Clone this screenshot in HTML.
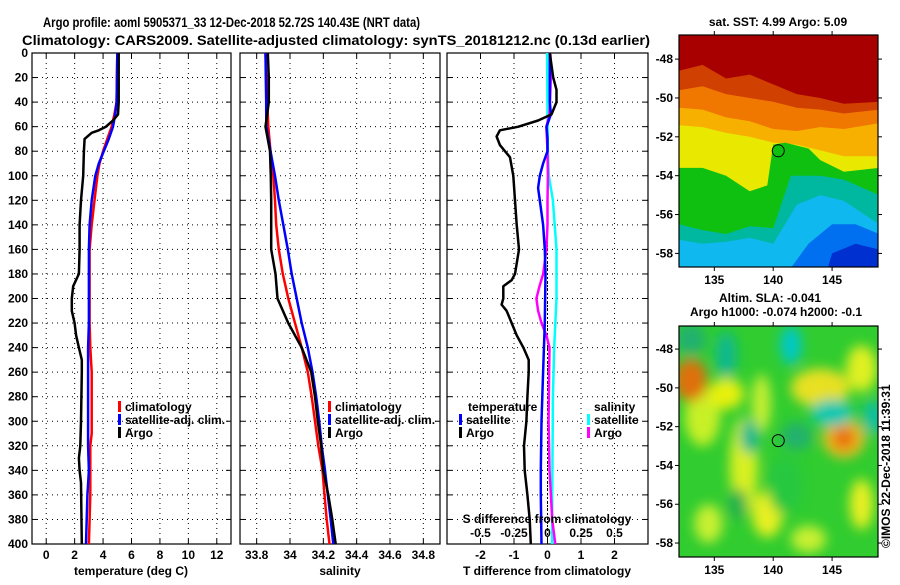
<!DOCTYPE html>
<html><head><meta charset="utf-8"><style>
body{margin:0;background:#fff;}
svg text{font-family:"Liberation Sans",sans-serif;font-weight:bold;fill:#000;}
</style></head><body>
<svg id="c" width="900" height="580" xmlns="http://www.w3.org/2000/svg">
<defs>
<filter id="bl" x="-50%" y="-50%" width="200%" height="200%"><feGaussianBlur stdDeviation="6"/></filter>
<clipPath id="cm1"><rect x="679" y="35" width="199" height="232"/></clipPath>
<clipPath id="cm2"><rect x="679" y="326" width="199" height="231"/></clipPath>
</defs>
<text x="43" y="27" font-size="14" textLength="377" lengthAdjust="spacingAndGlyphs">Argo profile: aoml 5905371_33 12-Dec-2018 52.72S 140.43E (NRT data)</text>
<text x="22" y="45" font-size="14" textLength="628" lengthAdjust="spacingAndGlyphs">Climatology: CARS2009. Satellite-adjusted climatology: synTS_20181212.nc (0.13d earlier)</text>
<g id="g"></g>
</svg>
<script>
// ---- data ----
const depthsArgoT=[0,20,40,50,55,60,63,65,70,80,100,120,140,160,180,190,200,210,220,230,240,250,260,300,320,330,340,350,400];
const argoT=[5.1,5.1,5.1,5.05,4.7,4.2,3.7,3.2,2.7,2.65,2.6,2.45,2.35,2.35,2.3,1.9,1.8,1.8,2.0,2.1,2.3,2.5,2.5,2.45,2.4,2.3,2.35,2.45,2.5];
const depthsStd=[0,40,50,60,70,80,90,100,120,140,160,200,220,240,260,310,320,340,360,400];
const climT=[5.0,4.95,4.8,4.6,4.3,4.0,3.75,3.6,3.4,3.2,3.05,3.05,3.05,3.1,3.2,3.2,3.1,3.1,3.1,3.0];
const satT=[5.0,4.95,4.85,4.7,4.4,4.05,3.7,3.45,3.2,3.05,3.0,3.0,3.0,2.95,2.95,2.95,2.95,3.0,2.9,2.8];
const depthsS=[0,20,40,60,80,100,120,140,160,180,200,220,240,260,280,300,320,340,360,380,400];
const argoS=[33.867,33.873,33.873,33.853,33.88,33.885,33.887,33.887,33.887,33.913,33.925,33.99,34.07,34.127,34.15,34.167,34.187,34.2,34.23,34.254,34.274];
const climS=[33.853,33.858,33.863,33.87,33.883,33.9,33.91,33.917,33.933,33.957,33.99,34.03,34.07,34.107,34.13,34.15,34.17,34.195,34.207,34.22,34.237];
const satS=[33.853,33.855,33.857,33.858,33.883,33.91,33.933,33.96,33.987,34.01,34.04,34.07,34.107,34.135,34.157,34.175,34.19,34.21,34.227,34.244,34.26];
const depthsD=[0,20,30,40,50,55,60,63,68,75,85,100,120,140,160,180,185,190,200,205,210,220,230,240,250,260,280,300,320,340,360,380,400];
const argoTdiff=[0.07,0.17,0.27,0.27,0.12,-0.28,-0.87,-1.42,-1.52,-1.42,-1.12,-1.02,-0.97,-0.92,-0.85,-0.97,-1.07,-1.32,-1.32,-1.37,-1.22,-1.07,-0.92,-0.72,-0.56,-0.56,-0.6,-0.63,-0.7,-0.68,-0.6,-0.53,-0.5];
const depthsD2=[0,40,50,60,70,80,90,100,110,120,140,160,180,220,260,300,340,360,400];
const satTdiff=[0.07,0.07,0.1,-0.03,0.0,0.0,-0.13,-0.23,-0.28,-0.23,-0.13,-0.08,-0.06,-0.08,-0.13,-0.18,-0.2,-0.2,-0.18];
const depthsSD=[0,50,80,100,120,160,200,240,280,320,360,400];
const satSdiff=[-0.003,0.0,0.003,0.01,0.04,0.067,0.067,0.05,0.04,0.038,0.035,0.035];
const depthsSD2=[0,20,50,60,80,100,120,140,160,180,190,200,210,220,230,240,260,300,340,360,380,400];
const argoSdiff=[0.022,0.025,0.015,-0.008,0.0,0.003,0.0,0.0,-0.008,-0.032,-0.06,-0.083,-0.07,-0.045,-0.008,0.015,0.012,0.008,0.015,0.025,0.035,0.058];
const depthTicks=[0,20,40,60,80,100,120,140,160,180,200,220,240,260,280,300,320,340,360,380,400];
const tTicks=[0,2,4,6,8,10,12];
const sTicks=[33.8,34,34.2,34.4,34.6,34.8];
const dTicks=[-2,-1,0,1,2];
const sdTicks=[-0.5,-0.25,0,0.25,0.5];
const sdTickLabels=['-0.5','-0.25','0','0.25','0.5'];

const NS='http://www.w3.org/2000/svg';
const G=document.getElementById('g');
function mk(t,a,p){const e=document.createElementNS(NS,t);for(const k in a)e.setAttribute(k,a[k]);(p||G).appendChild(e);return e;}
const Y0=53,Y1=544;
const yD=d=>Y0+d*(Y1-Y0)/400;
function lin(d0,d1,r0,r1){return v=>r0+(v-d0)*(r1-r0)/(d1-d0);}
const P=[
 {x0:32,x1:231,sx:lin(-1,13,32,231)},
 {x0:240,x1:440,sx:lin(33.7,34.9,240,440)},
 {x0:447,x1:648,sx:lin(-3,3,447,648)}];
const sdx=v=>P[2].sx(v*4);
const TICKY=559, TITLEY=575;

function frame(p,ticks,name){
  const gg=mk('g',{});
  
  
  ticks.forEach(t=>{const x=p.sx(t);
    const l=mk('line',{x1:x,x2:x,y1:Y0,y2:Y1,stroke:'#000','stroke-width':1,'stroke-dasharray':'1,4'},gg);
    
    mk('line',{x1:x,x2:x,y1:Y0,y2:Y0+5,stroke:'#000'},gg);mk('line',{x1:x,x2:x,y1:Y1,y2:Y1-5,stroke:'#000'},gg);});
  depthTicks.forEach(d=>{const y=yD(d);
    const l=mk('line',{x1:p.x0,x2:p.x1,y1:y,y2:y,stroke:'#000','stroke-width':1,'stroke-dasharray':'1,4'},gg);
    
    mk('line',{x1:p.x0,x2:p.x0+5,y1:y,y2:y,stroke:'#000'},gg);mk('line',{x1:p.x1,x2:p.x1-5,y1:y,y2:y,stroke:'#000'},gg);});
  mk('rect',{x:p.x0,y:Y0,width:p.x1-p.x0,height:Y1-Y0,fill:'none',stroke:'#000','stroke-width':1.2},gg);
}
function line(xs,ds,sx,col,name,w){
  const pts=xs.map((v,i)=>sx(v).toFixed(1)+','+yD(ds[i]).toFixed(1)).join(' ');
  const e=mk('polyline',{points:pts,fill:'none',stroke:col,'stroke-width':w||2.5,'stroke-linejoin':'round'});
  
  
}
function txt(x,y,s,o){const e=mk('text',Object.assign({x:x,y:y,'font-size':12},o||{}));e.textContent=s;return e;}
function leg(x,y,col,s,name){
  mk('rect',{x:x,y:y-10,width:3,height:11,fill:col});
  const t=txt(x+7,y,s);
  
  
}

// panel 1
frame(P[0],tTicks,'temperature-panel');
depthTicks.forEach(d=>{const t=txt(28,yD(d)+4,String(d),{'text-anchor':'end'});
  });
tTicks.forEach(t=>{const e=txt(P[0].sx(t),TICKY,String(t),{'text-anchor':'middle'});
  });
let e=txt(131,TITLEY,'temperature (deg C)',{'text-anchor':'middle'});

line(climT,depthsStd,P[0].sx,'#ff0000','climatology-temperature-line');
line(satT,depthsStd,P[0].sx,'#0000ff','satellite-temperature-line');
line(argoT,depthsArgoT,P[0].sx,'#000','argo-temperature-line');
leg(118,411,'#ff0000','climatology','legend-climatology');
leg(118,424,'#0000ff','satellite-adj. clim.','legend-satellite-adj');
leg(118,437,'#000','Argo','legend-argo');

// panel 2
frame(P[1],sTicks,'salinity-panel');
sTicks.forEach(t=>{const e=txt(P[1].sx(t),TICKY,String(t),{'text-anchor':'middle'});
  });
e=txt(340,TITLEY,'salinity',{'text-anchor':'middle'});

line(climS,depthsS,P[1].sx,'#ff0000','climatology-salinity-line');
line(satS,depthsS,P[1].sx,'#0000ff','satellite-salinity-line');
line(argoS,depthsS,P[1].sx,'#000','argo-salinity-line');
leg(328,411,'#ff0000','climatology','legend-climatology-s');
leg(328,424,'#0000ff','satellite-adj. clim.','legend-satellite-adj-s');
leg(328,437,'#000','Argo','legend-argo-s');

// panel 3
frame(P[2],dTicks,'difference-panel');
mk('line',{x1:P[2].sx(0),x2:P[2].sx(0),y1:Y0,y2:Y1,stroke:'#000','stroke-dasharray':'2,2'});
dTicks.forEach(t=>{const e=txt(P[2].sx(t),TICKY,String(t),{'text-anchor':'middle'});
  });
e=txt(547,TITLEY,'T difference from climatology',{'text-anchor':'middle'});

line(satSdiff,depthsSD,sdx,'#00ffff','satellite-s-diff-line');
line(argoSdiff,depthsSD2,sdx,'#ff00ff','argo-s-diff-line');
line(satTdiff,depthsD2,P[2].sx,'#0000ff','satellite-t-diff-line');
line(argoTdiff,depthsD,P[2].sx,'#000','argo-t-diff-line');
e=txt(547,523,'S difference from climatology',{'text-anchor':'middle'});

sdTicks.forEach((t,i)=>{const e=txt(sdx(t),537,sdTickLabels[i],{'text-anchor':'middle'});
  });
e=txt(468,411,'temperature');
leg(459,424,'#0000ff','satellite','legend-t-satellite');
leg(459,437,'#000','Argo','legend-t-argo');
e=txt(594,411,'salinity');
leg(587,424,'#00ffff','satellite','legend-s-satellite');
leg(587,437,'#ff00ff','Argo','legend-s-argo');

// ---- maps ----
const lonTicks=[135,140,145];
const latTicks=[-48,-50,-52,-54,-56,-58];
const profLon=140.43, profLat=-52.72;
const M1={mx:lin(132,148.9,679,878),my:lin(-46.76,-58.7,35,267)};
const M2={mx:lin(132,148.9,679,878),my:lin(-46.81,-58.72,326,557)};
// SST map
const sst=mk('g',{'clip-path':'url(#cm1)'});

mk('rect',{x:679,y:35,width:199,height:232,fill:'#a80000'},sst);
const L=-60;
function bp(pts,col){const s=pts.concat([[149,L],[132,L]]).map(p=>M1.mx(p[0]).toFixed(1)+','+M1.my(p[1]).toFixed(1)).join(' ');mk('polygon',{points:s,fill:col},sst);}
bp([[132,-48.6],[134,-48.3],[136,-49.0],[138,-48.8],[140,-49.3],[142,-49.8],[144,-50.0],[146,-50.3],[149,-50.2]],'#d04000');
bp([[132,-49.6],[134,-49.4],[136,-49.8],[138,-50.0],[140,-50.2],[142,-50.5],[144,-50.6],[146,-50.8],[149,-50.6]],'#f07800');
bp([[132,-50.5],[134,-50.6],[136,-51.0],[138,-51.2],[140,-51.6],[142,-51.7],[144,-51.5],[146,-51.6],[149,-51.3]],'#f8b000');
bp([[132,-51.4],[134,-51.5],[136,-51.8],[138,-52.0],[140,-52.3],[142,-52.4],[144,-52.7],[146,-53.0],[149,-53.0]],'#e8e800');
bp([[132,-53.6],[134,-53.6],[136,-54.0],[138,-54.8],[139.5,-54.5],[140,-52.4],[141,-52.3],[143,-52.6],[144,-53.2],[146,-53.8],[149,-53.6]],'#10c010');
bp([[132,-56.5],[134,-56.8],[136,-57.0],[138,-56.6],[140,-56.7],[141.5,-54.0],[144,-54.0],[146,-54.2],[149,-55.0]],'#00b8a0');
bp([[132,-57.3],[134,-57.5],[136,-57.4],[138,-57.2],[140,-57.5],[142,-55.5],[144,-55.0],[146,-55.3],[149,-56.5]],'#10b8f0');
bp([[132,-60],[140,-60],[143,-57.5],[145,-56.5],[147,-56.5],[149,-57]],'#0070f0');
bp([[132,-60],[144,-60],[145,-58],[147,-57.5],[149,-57.8]],'#0030d0');
mk('circle',{cx:M1.mx(profLon),cy:M1.my(profLat),r:6,fill:'#10c010',stroke:'#000'},sst);
// SLA map
const sla=mk('g',{'clip-path':'url(#cm2)'});

mk('rect',{x:679,y:326,width:199,height:231,fill:'#30cc30'},sla);
const bg=mk('g',{filter:'url(#bl)'},sla);
const blobs=[[134,-51.5,1.5,1.5,'#c8f028'],[137.5,-54,1.2,2.5,'#d8f020'],[139.5,-56.5,1.3,1.2,'#e8f020'],[136,-50.3,1.5,0.8,'#e8f010'],[144,-50,2.5,1.0,'#e8e020'],[147.5,-49,1.3,1.2,'#e0f020'],[146,-52.6,1.8,1.0,'#f0c020'],[133,-49.6,1.4,1.1,'#e07010'],[146,-52.6,1.0,0.6,'#e87010'],[147.5,-56,1.0,1.3,'#e8f020'],[139,-50.8,0.8,1.5,'#c8f030'],[143,-57.8,1.5,0.7,'#c8f030'],[134.5,-57,1.2,1.0,'#c8f030'],[141.5,-47.8,0.9,1.0,'#00c8c8'],[145,-51.3,1.8,0.7,'#00c8b0'],[136,-48.3,0.9,1.2,'#10b890'],[138,-52.5,0.8,0.9,'#10b890'],[142,-52.5,1.3,0.7,'#20b070'],[133,-47.5,1.3,0.8,'#20b070'],[148.5,-51.5,0.9,0.9,'#10c0a0'],[137,-56,0.8,0.8,'#20b050'],[141,-55,1.5,1.5,'#28c840']];
blobs.forEach(b=>mk('ellipse',{cx:M2.mx(b[0]),cy:M2.my(b[1]),rx:b[2]*11.8,ry:b[3]*19.4,fill:b[4]},bg));
mk('circle',{cx:M2.mx(profLon),cy:M2.my(profLat),r:6,fill:'none',stroke:'#000'},sla);

function mapFrame(M,top,bot,name){
  const gg=mk('g',{});
  mk('rect',{x:679,y:top,width:199,height:bot-top,fill:'none',stroke:'#000','stroke-width':1.2},gg);
  lonTicks.forEach(l=>{const x=M.mx(l);mk('line',{x1:x,x2:x,y1:top-4,y2:top,stroke:'#000'},gg);mk('line',{x1:x,x2:x,y1:bot,y2:bot+4,stroke:'#000'},gg);
    const t=txt(x,bot+17,String(l),{'text-anchor':'middle'});});
  latTicks.forEach(l=>{const y=M.my(l);mk('line',{x1:675,x2:679,y1:y,y2:y,stroke:'#000'},gg);mk('line',{x1:878,x2:882,y1:y,y2:y,stroke:'#000'},gg);
    const t=txt(673,y+4,String(l),{'text-anchor':'end'});});
}
mapFrame(M1,35,267,'sst-map-axes');
mapFrame(M2,326,557,'sla-map-axes');
e=txt(778,26,'sat. SST: 4.99 Argo: 5.09',{'text-anchor':'middle'});
e=txt(770,302,'Altim. SLA: -0.041',{'text-anchor':'middle'});
e=txt(776,316,'Argo h1000: -0.074 h2000: -0.1',{'text-anchor':'middle'});
e=txt(0,0,'©IMOS 22-Dec-2018 11:39:31',{'font-weight':'normal','transform':'translate(890,548) rotate(-90)','font-size':12});

</script>
</body></html>
